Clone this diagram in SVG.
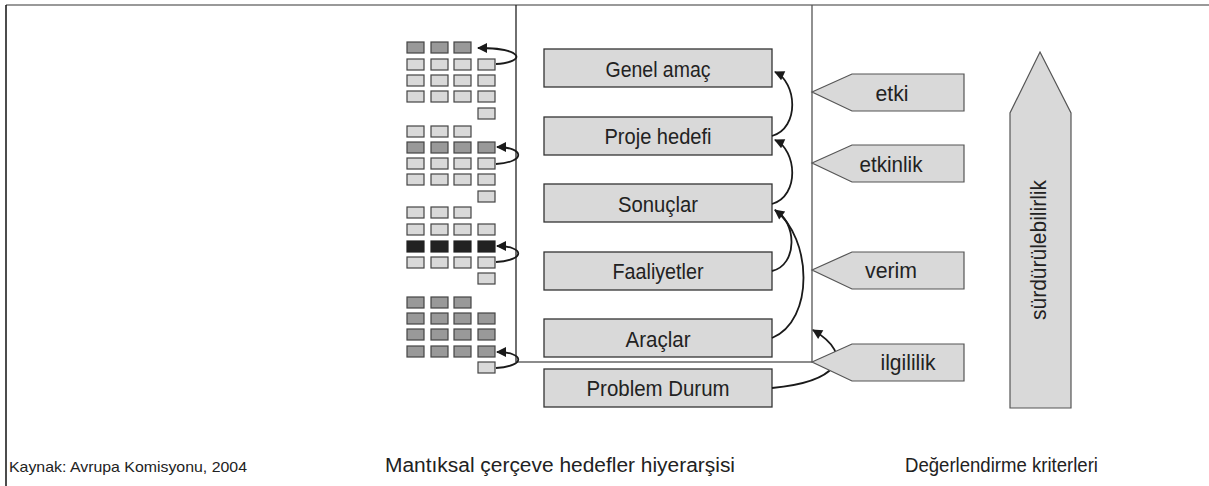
<svg xmlns="http://www.w3.org/2000/svg" width="1209" height="486" viewBox="0 0 1209 486">
<defs>
<style>
.t{font-family:"Liberation Sans Narrow","Liberation Sans",Arial,sans-serif;fill:#222;}
.box{fill:#d9d9d9;stroke:#333;stroke-width:1.3;}
.pent{fill:#d9d9d9;stroke:#555;stroke-width:1.2;}
.l{fill:#d9d9d9;stroke:#444;stroke-width:1.2;}
.d{fill:#999;stroke:#444;stroke-width:1.2;}
.k{fill:#222;stroke:#222;stroke-width:1.2;}
.c{fill:none;stroke:#1a1a1a;stroke-width:1.8;}
</style>
<marker id="ah" viewBox="0 0 10 10" refX="9" refY="5" markerWidth="12" markerHeight="10" markerUnits="userSpaceOnUse" orient="auto">
<path d="M0,0 L10,5 L0,10 Z" fill="#1a1a1a"/>
</marker>
</defs>
<rect width="1209" height="486" fill="#fff"/>
<g id="frame">
<line x1="6" y1="5" x2="1209" y2="5" stroke="#777" stroke-width="1.5"/>
<line x1="6" y1="5" x2="6" y2="486" stroke="#111" stroke-width="1.5"/>
<line x1="516" y1="5" x2="516" y2="362" stroke="#222" stroke-width="1.3"/>
<line x1="812" y1="5" x2="812" y2="362" stroke="#555" stroke-width="1.3"/>
<line x1="516" y1="362" x2="812" y2="362" stroke="#666" stroke-width="1.3"/>
</g>
<g id="grid1">
<rect class="d" x="407" y="42" width="17" height="11"/><rect class="d" x="431" y="42" width="17" height="11"/><rect class="d" x="454" y="42" width="17" height="11"/>
<rect class="l" x="407" y="59" width="17" height="11"/><rect class="l" x="431" y="59" width="17" height="11"/><rect class="l" x="454" y="59" width="17" height="11"/><rect class="l" x="478" y="59" width="17" height="11"/>
<rect class="l" x="407" y="75" width="17" height="11"/><rect class="l" x="431" y="75" width="17" height="11"/><rect class="l" x="454" y="75" width="17" height="11"/><rect class="l" x="478" y="75" width="17" height="11"/>
<rect class="l" x="407" y="91" width="17" height="11"/><rect class="l" x="431" y="91" width="17" height="11"/><rect class="l" x="454" y="91" width="17" height="11"/><rect class="l" x="478" y="91" width="17" height="11"/>
<rect class="l" x="478" y="108" width="17" height="11"/>
</g>
<g id="grid2">
<rect class="l" x="407" y="126" width="17" height="11"/><rect class="l" x="431" y="126" width="17" height="11"/><rect class="l" x="454" y="126" width="17" height="11"/>
<rect class="d" x="407" y="142" width="17" height="11"/><rect class="d" x="431" y="142" width="17" height="11"/><rect class="d" x="454" y="142" width="17" height="11"/><rect class="d" x="478" y="142" width="17" height="11"/>
<rect class="l" x="407" y="158" width="17" height="11"/><rect class="l" x="431" y="158" width="17" height="11"/><rect class="l" x="454" y="158" width="17" height="11"/><rect class="l" x="478" y="158" width="17" height="11"/>
<rect class="l" x="407" y="174" width="17" height="11"/><rect class="l" x="431" y="174" width="17" height="11"/><rect class="l" x="454" y="174" width="17" height="11"/><rect class="l" x="478" y="174" width="17" height="11"/>
<rect class="l" x="478" y="191" width="17" height="11"/>
</g>
<g id="grid3">
<rect class="l" x="407" y="207" width="17" height="11"/><rect class="l" x="431" y="207" width="17" height="11"/><rect class="l" x="454" y="207" width="17" height="11"/>
<rect class="l" x="407" y="224" width="17" height="11"/><rect class="l" x="431" y="224" width="17" height="11"/><rect class="l" x="454" y="224" width="17" height="11"/><rect class="l" x="478" y="224" width="17" height="11"/>
<rect class="k" x="407" y="241" width="17" height="11"/><rect class="k" x="431" y="241" width="17" height="11"/><rect class="k" x="454" y="241" width="17" height="11"/><rect class="k" x="478" y="241" width="17" height="11"/>
<rect class="l" x="407" y="257" width="17" height="11"/><rect class="l" x="431" y="257" width="17" height="11"/><rect class="l" x="454" y="257" width="17" height="11"/><rect class="l" x="478" y="257" width="17" height="11"/>
<rect class="l" x="478" y="273" width="17" height="11"/>
</g>
<g id="grid4">
<rect class="d" x="407" y="297" width="17" height="11"/><rect class="d" x="431" y="297" width="17" height="11"/><rect class="d" x="454" y="297" width="17" height="11"/>
<rect class="d" x="407" y="313" width="17" height="11"/><rect class="d" x="431" y="313" width="17" height="11"/><rect class="d" x="454" y="313" width="17" height="11"/><rect class="d" x="478" y="313" width="17" height="11"/>
<rect class="d" x="407" y="329" width="17" height="11"/><rect class="d" x="431" y="329" width="17" height="11"/><rect class="d" x="454" y="329" width="17" height="11"/><rect class="d" x="478" y="329" width="17" height="11"/>
<rect class="d" x="407" y="346" width="17" height="11"/><rect class="d" x="431" y="346" width="17" height="11"/><rect class="d" x="454" y="346" width="17" height="11"/><rect class="d" x="478" y="346" width="17" height="11"/>
<rect class="l" x="478" y="362" width="17" height="11"/>
</g>
<g id="genel-amac"><rect class="box" x="544" y="49" width="228" height="38"/><text class="t" x="658" y="77" font-size="22" text-anchor="middle" textLength="105" lengthAdjust="spacingAndGlyphs">Genel amaç</text></g>
<g id="proje-hedefi"><rect class="box" x="544" y="117" width="228" height="38"/><text class="t" x="658" y="144" font-size="22" text-anchor="middle" textLength="107" lengthAdjust="spacingAndGlyphs">Proje hedefi</text></g>
<g id="sonuclar"><rect class="box" x="544" y="184" width="228" height="38"/><text class="t" x="658" y="212" font-size="22" text-anchor="middle" textLength="80" lengthAdjust="spacingAndGlyphs">Sonuçlar</text></g>
<g id="faaliyetler"><rect class="box" x="544" y="252" width="228" height="38"/><text class="t" x="658" y="279" font-size="22" text-anchor="middle" textLength="91" lengthAdjust="spacingAndGlyphs">Faaliyetler</text></g>
<g id="araclar"><rect class="box" x="544" y="319" width="228" height="38"/><text class="t" x="658" y="347" font-size="22" text-anchor="middle" textLength="65" lengthAdjust="spacingAndGlyphs">Araçlar</text></g>
<g id="problem-durum"><rect class="box" x="544" y="369" width="228" height="38"/><text class="t" x="658" y="396" font-size="22" text-anchor="middle" textLength="143" lengthAdjust="spacingAndGlyphs">Problem Durum</text></g>
<g id="connectors">
<path class="c" marker-end="url(#ah)" d="M496,64 C527,62 524,48 478,48"/>
<path class="c" marker-end="url(#ah)" d="M496,164 C527,162 524,147 497,147"/>
<path class="c" marker-end="url(#ah)" d="M496,262 C527,260 524,246 497,246"/>
<path class="c" marker-end="url(#ah)" d="M496,368 C527,366 524,352 497,352"/>
<path class="c" marker-end="url(#ah)" d="M772,136 C800,128 797,82 775,72"/>
<path class="c" marker-end="url(#ah)" d="M772,204 C800,196 797,150 775,140"/>
<path class="c" d="M772,271 C798,265 797,222 775,210"/>
<path class="c" marker-end="url(#ah)" d="M772,338 C815,320 812,238 775,210"/>
<path class="c" marker-end="url(#ah)" d="M772,388 C835,382 858,357 813,330"/>
</g>
<g id="etki"><path class="pent" d="M812,92 L852,74 L964,74 L964,111 L852,111 Z"/><text class="t" x="892" y="101" font-size="22" text-anchor="middle" textLength="33" lengthAdjust="spacingAndGlyphs">etki</text></g>
<g id="etkinlik"><path class="pent" d="M812,163 L852,145 L964,145 L964,182 L852,182 Z"/><text class="t" x="891" y="172" font-size="22" text-anchor="middle" textLength="63" lengthAdjust="spacingAndGlyphs">etkinlik</text></g>
<g id="verim"><path class="pent" d="M812,270 L852,252 L964,252 L964,289 L852,289 Z"/><text class="t" x="891" y="278" font-size="22" text-anchor="middle" textLength="52" lengthAdjust="spacingAndGlyphs">verim</text></g>
<g id="ilgililik"><path class="pent" d="M812,362 L852,344 L964,344 L964,381 L852,381 Z"/><text class="t" x="908" y="370" font-size="22" text-anchor="middle" textLength="55" lengthAdjust="spacingAndGlyphs">ilgililik</text></g>
<g id="surdurulebilirlik"><path class="pent" d="M1040,52 L1071,113 L1071,408 L1010,408 L1010,113 Z"/><text class="t" x="1046" y="250" font-size="22" text-anchor="middle" transform="rotate(-90 1046 250)" textLength="140" lengthAdjust="spacingAndGlyphs">sürdürülebilirlik</text></g>
<g id="captions">
<text class="t" x="9" y="472" font-size="15" textLength="238" lengthAdjust="spacingAndGlyphs">Kaynak: Avrupa Komisyonu, 2004</text>
<text class="t" x="385" y="472" font-size="20" textLength="350" lengthAdjust="spacingAndGlyphs">Mantıksal çerçeve hedefler hiyerarşisi</text>
<text class="t" x="905" y="472" font-size="20" textLength="193" lengthAdjust="spacingAndGlyphs">Değerlendirme kriterleri</text>
</g>
</svg>
